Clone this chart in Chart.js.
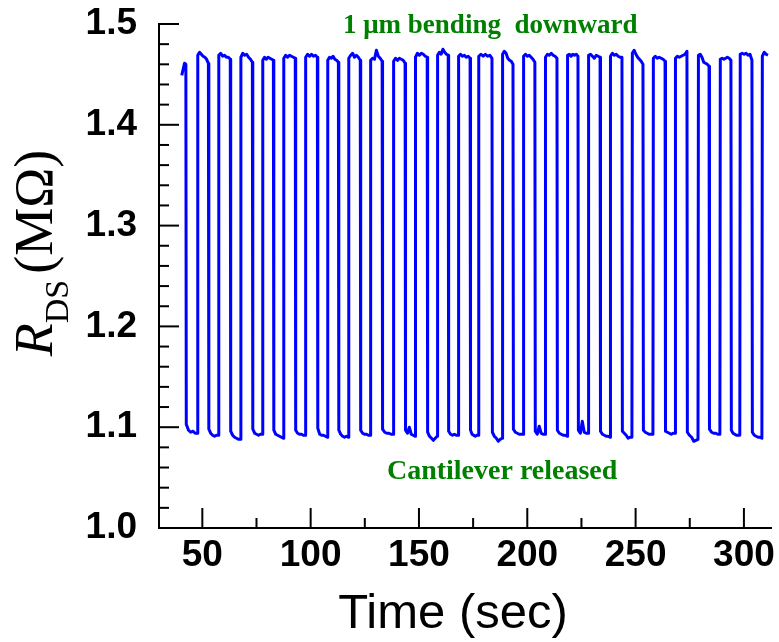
<!DOCTYPE html>
<html lang="en">
<head>
<meta charset="utf-8">
<script src="https://cdn.jsdelivr.net/npm/chart.js@4.4.1/dist/chart.umd.min.js"></script>
<style>
  html, body { margin: 0; padding: 0; background: #fff; }
</style>
</head>
<body>
<canvas id="rdsChart" width="779" height="642"></canvas>
<script>
// switching record: cantilever bent / released, times in sec
const startTime = 40.4;
const endTime = 311.2;
const fallTimes = [42.5, 52.9, 63.0, 73.2, 82.9, 93.0, 103.2, 112.9, 123.0, 133.1, 143.7, 153.9, 163.6,
                   173.7, 183.8, 193.5, 203.6, 213.8, 223.5, 233.7, 243.8, 253.5, 263.7, 273.8, 284.0, 294.1, 303.8];
const riseTimes = [47.8, 57.5, 67.7, 77.8, 87.5, 97.6, 107.8, 117.5, 127.6, 138.2, 148.3, 158.5, 168.2,
                   177.5, 188.5, 198.2, 208.3, 218.5, 228.2, 238.3, 248.4, 258.1, 268.3, 278.9, 289.0, 298.2, 308.4];

// R_DS (MOhm) along each bent plateau, first and last are partial
const highLevels = [
  [1.449, 1.455, 1.461, 1.460],
  [1.469, 1.472, 1.470, 1.468, 1.467, 1.465, 1.461],
  [1.469, 1.471, 1.468, 1.469, 1.467, 1.467, 1.465],
  [1.467, 1.471, 1.469, 1.470, 1.467, 1.465, 1.462],
  [1.464, 1.467, 1.465, 1.467, 1.466, 1.465, 1.464],
  [1.466, 1.469, 1.467, 1.469, 1.468, 1.467, 1.466],
  [1.467, 1.470, 1.468, 1.470, 1.468, 1.469, 1.467],
  [1.464, 1.467, 1.466, 1.468, 1.465, 1.464, 1.462],
  [1.466, 1.469, 1.471, 1.467, 1.469, 1.467, 1.464],
  [1.464, 1.466, 1.465, 1.474, 1.468, 1.466, 1.463],
  [1.463, 1.466, 1.464, 1.466, 1.465, 1.464, 1.461],
  [1.467, 1.471, 1.469, 1.471, 1.470, 1.468, 1.467],
  [1.469, 1.472, 1.470, 1.475, 1.472, 1.470, 1.469],
  [1.468, 1.470, 1.468, 1.469, 1.467, 1.468, 1.466],
  [1.468, 1.470, 1.468, 1.470, 1.468, 1.469, 1.466],
  [1.470, 1.473, 1.471, 1.466, 1.464, 1.463, 1.460],
  [1.468, 1.470, 1.468, 1.469, 1.467, 1.465, 1.462],
  [1.467, 1.470, 1.469, 1.471, 1.469, 1.468, 1.466],
  [1.469, 1.470, 1.468, 1.470, 1.469, 1.470, 1.468],
  [1.469, 1.470, 1.468, 1.466, 1.469, 1.468, 1.467],
  [1.468, 1.471, 1.469, 1.470, 1.468, 1.467, 1.467],
  [1.471, 1.474, 1.470, 1.467, 1.465, 1.463, 1.460],
  [1.466, 1.468, 1.466, 1.467, 1.466, 1.465, 1.463],
  [1.466, 1.468, 1.467, 1.468, 1.469, 1.470, 1.473],
  [1.469, 1.470, 1.467, 1.462, 1.461, 1.460, 1.458],
  [1.465, 1.466, 1.465, 1.466, 1.467, 1.466, 1.464],
  [1.470, 1.471, 1.470, 1.471, 1.469, 1.470, 1.464],
  [1.468, 1.472, 1.470, 1.469]
];

// R_DS (MOhm) along each released plateau
const lowLevels = [
  [1.103, 1.097, 1.095, 1.096, 1.094, 1.094],
  [1.098, 1.094, 1.092, 1.091, 1.092, 1.092],
  [1.096, 1.092, 1.090, 1.089, 1.088, 1.088],
  [1.098, 1.094, 1.093, 1.092, 1.093, 1.093],
  [1.097, 1.093, 1.092, 1.091, 1.090, 1.089],
  [1.097, 1.094, 1.093, 1.093, 1.092, 1.092],
  [1.099, 1.093, 1.092, 1.092, 1.091, 1.090],
  [1.097, 1.093, 1.091, 1.090, 1.091, 1.090],
  [1.097, 1.094, 1.093, 1.093, 1.092, 1.092],
  [1.098, 1.095, 1.094, 1.094, 1.093, 1.093],
  [1.097, 1.094, 1.100, 1.093, 1.092, 1.091],
  [1.095, 1.091, 1.089, 1.087, 1.089, 1.091],
  [1.096, 1.093, 1.092, 1.093, 1.092, 1.092],
  [1.097, 1.093, 1.092, 1.091, 1.092, 1.092],
  [1.095, 1.091, 1.089, 1.086, 1.088, 1.089],
  [1.098, 1.095, 1.094, 1.093, 1.093, 1.093],
  [1.096, 1.093, 1.101, 1.094, 1.093, 1.093],
  [1.097, 1.094, 1.093, 1.092, 1.092, 1.091],
  [1.097, 1.094, 1.106, 1.095, 1.094, 1.094],
  [1.096, 1.093, 1.092, 1.091, 1.091, 1.090],
  [1.096, 1.094, 1.092, 1.089, 1.090, 1.090],
  [1.097, 1.095, 1.094, 1.093, 1.093, 1.093],
  [1.096, 1.095, 1.094, 1.093, 1.094, 1.094],
  [1.095, 1.092, 1.090, 1.086, 1.087, 1.088],
  [1.098, 1.095, 1.094, 1.094, 1.093, 1.093],
  [1.097, 1.094, 1.093, 1.092, 1.092, 1.092],
  [1.095, 1.092, 1.091, 1.090, 1.090, 1.089]
];

const xTickLabels = [50, 100, 150, 200, 250, 300];
const xMinorTicks = [75, 125, 175, 225, 275];
const yTickLabels = [1.0, 1.1, 1.2, 1.3, 1.4, 1.5];
const yMinorTicks = [1.02, 1.04, 1.06, 1.08, 1.12, 1.14, 1.16, 1.18, 1.22, 1.24, 1.26, 1.28,
                     1.32, 1.34, 1.36, 1.38, 1.42, 1.44, 1.46, 1.48];

// spread a plateau's readings between its two switching edges
function segment(t0, t1, vals) {
  const a = t0 + 0.1, b = t1 - 0.1, n = vals.length;
  return vals.map((v, k) => ({ x: a + (b - a) * k / (n - 1), y: v }));
}

const points = [];
points.push(...segment(startTime, fallTimes[0], highLevels[0]));
for (let i = 0; i < riseTimes.length; i++) {
  points.push(...segment(fallTimes[i], riseTimes[i], lowLevels[i]));
  const end = i + 1 < fallTimes.length ? fallTimes[i + 1] : endTime;
  points.push(...segment(riseTimes[i], end, highLevels[i + 1]));
}

const tickFont = { family: '"Liberation Sans", Arial, sans-serif', size: 37, weight: 'bold' };
const green = '#008000';

// Origin-style ticks pointing into the plot, plus titles and notes
const decorations = {
  id: 'decorations',
  afterDraw(chart) {
    const { ctx, chartArea: area, scales: { x, y } } = chart;
    ctx.save();
    ctx.strokeStyle = '#000';
    ctx.lineWidth = 2;
    const mark = (px, py, dx, dy) => {
      ctx.beginPath();
      ctx.moveTo(px, py);
      ctx.lineTo(px + dx, py + dy);
      ctx.stroke();
    };
    xTickLabels.forEach(v => mark(x.getPixelForValue(v), area.bottom, 0, -20));
    xMinorTicks.forEach(v => mark(x.getPixelForValue(v), area.bottom, 0, -10));
    yTickLabels.forEach(v => mark(area.left, y.getPixelForValue(v), 20, 0));
    yMinorTicks.forEach(v => mark(area.left, y.getPixelForValue(v), 10, 0));

    // x title
    ctx.fillStyle = '#000';
    ctx.textAlign = 'center';
    ctx.textBaseline = 'alphabetic';
    ctx.font = '49px "Liberation Sans", Arial, sans-serif';
    ctx.fillText('Time (sec)', 453, 628);

    // y title: R with subscript DS, rotated
    const mainFont = '54px "Liberation Serif", "Times New Roman", serif';
    const italFont = 'italic 54px "Liberation Serif", "Times New Roman", serif';
    const subFont = '34px "Liberation Serif", "Times New Roman", serif';
    ctx.font = italFont; const wR = ctx.measureText('R').width;
    ctx.font = subFont; const wS = ctx.measureText('DS').width;
    ctx.font = mainFont; const wU = ctx.measureText('(MΩ)').width;
    const gap = 6;
    const total = wR + wS + gap + wU;
    ctx.translate(52, 253 + total / 2);
    ctx.rotate(-Math.PI / 2);
    ctx.textAlign = 'left';
    ctx.font = italFont; ctx.fillText('R', 0, 0);
    ctx.font = subFont; ctx.fillText('DS', wR, 16);
    ctx.font = mainFont; ctx.fillText('(MΩ)', wR + wS + gap, 0);
    ctx.setTransform(1, 0, 0, 1, 0, 0);

    // state notes
    ctx.fillStyle = green;
    ctx.textAlign = 'center';
    ctx.font = 'bold 27px "Liberation Serif", "Times New Roman", serif';
    ctx.fillText('1 μm bending  downward', x.getPixelForValue(182.9), y.getPixelForValue(1.491));
    ctx.font = 'bold 28px "Liberation Serif", "Times New Roman", serif';
    ctx.fillText('Cantilever released', x.getPixelForValue(188.4), y.getPixelForValue(1.0486));
    ctx.restore();
  }
};

new Chart(document.getElementById('rdsChart'), {
  type: 'line',
  data: {
    datasets: [{
      data: points,
      borderColor: '#0000ff',
      borderWidth: 3,
      pointRadius: 0,
      tension: 0,
      borderJoinStyle: 'round'
    }]
  },
  options: {
    responsive: false,
    animation: false,
    events: [],
    layout: { padding: { top: 24, right: 8, bottom: 0, left: 0 } },
    plugins: { legend: { display: false }, tooltip: { enabled: false } },
    scales: {
      x: {
        type: 'linear',
        position: 'bottom',
        min: 30,
        max: 312.5,
        grid: { display: false, drawTicks: false },
        border: { display: true, color: '#000', width: 2 },
        ticks: { font: tickFont, color: '#000', padding: 6, maxRotation: 0, autoSkip: false },
        afterBuildTicks: s => { s.ticks = xTickLabels.map(v => ({ value: v })); },
        afterFit: s => { s.height = 114; s.paddingLeft = 0; s.paddingRight = 0; }
      },
      y: {
        type: 'linear',
        min: 1.0,
        max: 1.5,
        grid: { display: false, drawTicks: false },
        border: { display: true, color: '#000', width: 2 },
        ticks: { font: tickFont, color: '#000', padding: 22, callback: v => v.toFixed(1) },
        afterBuildTicks: s => { s.ticks = yTickLabels.map(v => ({ value: v })); },
        afterFit: s => { s.width = 159; s.paddingTop = 0; s.paddingBottom = 0; }
      }
    }
  },
  plugins: [decorations]
});
</script>
</body>
</html>
